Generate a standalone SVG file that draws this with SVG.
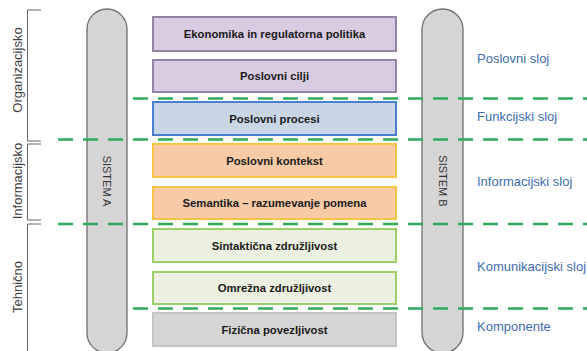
<svg xmlns="http://www.w3.org/2000/svg" width="587" height="351" viewBox="0 0 587 351">
<style>
.pill{fill:#d5d5d5;stroke:#6f6f6f;stroke-width:1.3}
.box{stroke-width:2}
.purple{fill:#d9cce2;stroke:#9484a6}
.blue{fill:#c9d6e6;stroke:#4a7fd0}
.orange{fill:#f9caa6;stroke:#f6c444}
.green{fill:#ebf0e0;stroke:#9ccf6a}
.gray{fill:#d5d5d5;stroke:#c4c4c4}
.bt{font-family:"Liberation Sans",Arial,sans-serif;font-weight:bold;font-size:11.3px;fill:#1a1a1a;text-anchor:middle}
.lt{font-family:"Liberation Sans",Arial,sans-serif;font-size:13px;fill:#404040;text-anchor:middle}
.rt{font-family:"Liberation Sans",Arial,sans-serif;font-size:13px;fill:#3e6cb0}
.st{font-family:"Liberation Sans",Arial,sans-serif;font-size:11px;fill:#333;text-anchor:middle}
.dash{stroke:#2eaa5c;stroke-width:2.5;stroke-dasharray:15 10;fill:none}
.br{stroke:#666;stroke-width:1;fill:none}
</style>
<g id="brackets">
<path class="br" d="M41,10 H27.5 V141 H41"/>
<path class="br" d="M41,144 H27.5 V220 H41"/>
<path class="br" d="M41,224 H27.5 V352"/>
<text class="lt" transform="translate(22,70) rotate(-90)">Organizacijsko</text>
<text class="lt" transform="translate(22,181) rotate(-90)">Informacijsko</text>
<text class="lt" transform="translate(22,287) rotate(-90)">Tehnično</text>
</g>
<g id="sistem-a">
<rect class="pill" x="87" y="9" width="40" height="344" rx="20"/>
<text class="st" transform="translate(103,181) rotate(90)">SISTEM A</text>
</g>
<g id="sistem-b">
<rect class="pill" x="422" y="9" width="41" height="344" rx="20.5"/>
<text class="st" transform="translate(438.5,181) rotate(90)">SISTEM B</text>
</g>
<g id="n1"><rect class="box purple" x="153" y="17" width="243" height="34"/><text class="bt" x="274.5" y="38">Ekonomika in regulatorna politika</text></g>
<g id="n2"><rect class="box purple" x="153" y="60" width="243" height="32"/><text class="bt" x="274.5" y="80">Poslovni cilji</text></g>
<g id="n3"><rect class="box blue" x="153" y="102" width="243" height="33"/><text class="bt" x="274.5" y="122.5">Poslovni procesi</text></g>
<g id="n4"><rect class="box orange" x="153" y="144" width="243" height="33"/><text class="bt" x="274.5" y="164.5">Poslovni kontekst</text></g>
<g id="n5"><rect class="box orange" x="153" y="187" width="243" height="32"/><text class="bt" x="274.5" y="207">Semantika – razumevanje pomena</text></g>
<g id="n6"><rect class="box green" x="153" y="229" width="243" height="33"/><text class="bt" x="274.5" y="249.5">Sintaktična združljivost</text></g>
<g id="n7"><rect class="box green" x="153" y="272" width="243" height="32"/><text class="bt" x="274.5" y="292">Omrežna združljivost</text></g>
<g id="n8"><rect class="box gray" x="153" y="313" width="243" height="33"/><text class="bt" x="274.5" y="333.5">Fizična povezljivost</text></g>
<g id="connectors">
<line class="dash" x1="133" y1="98.5" x2="587" y2="98.5"/>
<line class="dash" x1="58" y1="139.5" x2="587" y2="139.5"/>
<line class="dash" x1="58" y1="224" x2="587" y2="224"/>
<line class="dash" x1="133" y1="308.5" x2="587" y2="308.5"/>
</g>
<g id="layers">
<text class="rt" x="477" y="63">Poslovni sloj</text>
<text class="rt" x="477" y="121">Funkcijski sloj</text>
<text class="rt" x="477" y="186">Informacijski sloj</text>
<text class="rt" x="477" y="271">Komunikacijski sloj</text>
<text class="rt" x="477" y="331">Komponente</text>
</g>
</svg>
